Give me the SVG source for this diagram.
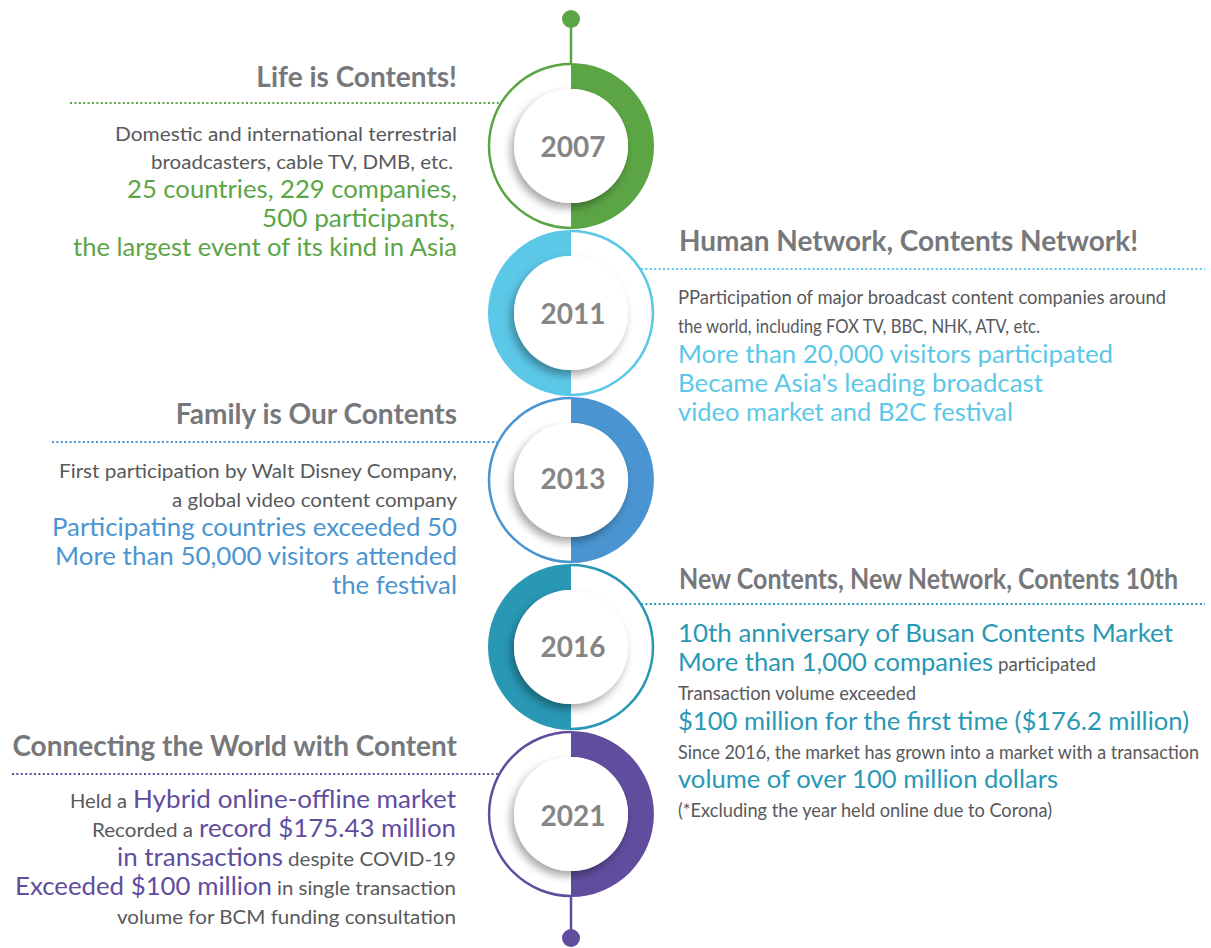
<svg xmlns="http://www.w3.org/2000/svg" width="1211" height="948" viewBox="0 0 1211 948">
<style>
text{font-family:Lato,"Liberation Sans",sans-serif}
.t{font-size:28px;font-weight:700;fill:#77787b}
.b{font-size:19.5px;fill:#58595b}
.c{font-size:25px}
.yr{font-size:28px;font-weight:700;fill:#858585;text-anchor:middle}
.e{text-anchor:end}
.dot{fill:none;stroke-width:2;stroke-dasharray:2 2.4}
.thin{fill:none;stroke-width:2.5}
.g{fill:#5ba545}.gs{stroke:#5ba545}
.lb{fill:#5bc8e8}.lbs{stroke:#5bc8e8}
.bl{fill:#4a95d1}.bls{stroke:#4a95d1}
.tl{fill:#2898b5}.tls{stroke:#2898b5}
.pu{fill:#604d9e}.pus{stroke:#604d9e}
</style>
<defs>
<filter id="sh" x="-30%" y="-30%" width="160%" height="160%">
<feDropShadow dx="-3" dy="5" stdDeviation="4" flood-color="#000" flood-opacity="0.35"/>
</filter>
</defs>
<g id="connectors">
<line x1="571" y1="19" x2="571" y2="63" class="gs" stroke-width="2.5"/>
<line x1="571" y1="897" x2="571" y2="938" class="pus" stroke-width="2.5"/>
<line x1="70" y1="103" x2="500" y2="103" class="dot gs"/>
<line x1="641" y1="269" x2="1205" y2="269" class="dot lbs"/>
<line x1="52" y1="442" x2="497" y2="442" class="dot bls"/>
<line x1="641" y1="604" x2="1205" y2="604" class="dot tls"/>
<line x1="12" y1="774" x2="498" y2="774" class="dot pus"/>
</g>
<g id="dot-top"><circle cx="571" cy="19" r="9" class="g"/></g>
<g id="dot-bottom"><circle cx="571" cy="938" r="9" class="pu"/></g>
<g id="node-2007">
<path d="M571 63 A83 83 0 0 1 571 229 L571 203 A57 57 0 0 0 571 89 Z" class="g"/>
<path d="M571 64 A82 82 0 0 0 571 228" class="thin gs"/>
<circle cx="571" cy="146" r="57" fill="#fff" filter="url(#sh)"/>
<text x="573" y="157" class="yr">2007</text>
</g>
<g id="node-2011">
<path d="M571 230 A83 83 0 0 0 571 396 L571 370 A57 57 0 0 1 571 256 Z" class="lb"/>
<path d="M571 231 A82 82 0 0 1 571 395" class="thin lbs"/>
<circle cx="571" cy="313" r="57" fill="#fff" filter="url(#sh)"/>
<text x="573" y="324" class="yr">2011</text>
</g>
<g id="node-2013">
<path d="M571 397 A83 83 0 0 1 571 563 L571 537 A57 57 0 0 0 571 423 Z" class="bl"/>
<path d="M571 398 A82 82 0 0 0 571 562" class="thin bls"/>
<circle cx="571" cy="480" r="57" fill="#fff" filter="url(#sh)"/>
<text x="573" y="489" class="yr">2013</text>
</g>
<g id="node-2016">
<path d="M571 564 A83 83 0 0 0 571 730 L571 704 A57 57 0 0 1 571 590 Z" class="tl"/>
<path d="M571 565 A82 82 0 0 1 571 729" class="thin tls"/>
<circle cx="571" cy="647" r="57" fill="#fff" filter="url(#sh)"/>
<text x="573" y="657" class="yr">2016</text>
</g>
<g id="node-2021">
<path d="M571 731 A83 83 0 0 1 571 897 L571 871 A57 57 0 0 0 571 757 Z" class="pu"/>
<path d="M571 732 A82 82 0 0 0 571 896" class="thin pus"/>
<circle cx="571" cy="814" r="57" fill="#fff" filter="url(#sh)"/>
<text x="573" y="826" class="yr">2021</text>
</g>
<g id="text-2007">
<text x="457" y="87" class="t e">Life is Contents!</text>
<text x="115" y="141" class="b" textLength="342" lengthAdjust="spacingAndGlyphs">Domestic and international terrestrial</text>
<text x="151" y="169" class="b" textLength="302" lengthAdjust="spacingAndGlyphs">broadcasters, cable TV, DMB, etc.</text>
<text x="127" y="198" class="c g" textLength="330" lengthAdjust="spacingAndGlyphs">25 countries, 229 companies,</text>
<text x="262" y="227" class="c g" textLength="193" lengthAdjust="spacingAndGlyphs">500 participants,</text>
<text x="73" y="256" class="c g" textLength="384" lengthAdjust="spacingAndGlyphs">the largest event of its kind in Asia</text>
</g>
<g id="text-2011">
<text x="679" y="251" class="t" textLength="459" lengthAdjust="spacingAndGlyphs">Human Network, Contents Network!</text>
<text x="678" y="304" class="b" textLength="488" lengthAdjust="spacingAndGlyphs">PParticipation of major broadcast content companies around</text>
<text x="678" y="333" class="b" textLength="362" lengthAdjust="spacingAndGlyphs">the world, including FOX TV, BBC, NHK, ATV, etc.</text>
<text x="678" y="363" class="c lb" textLength="435" lengthAdjust="spacingAndGlyphs">More than 20,000 visitors participated</text>
<text x="678" y="392" class="c lb" textLength="365" lengthAdjust="spacingAndGlyphs">Became Asia's leading broadcast</text>
<text x="678" y="421" class="c lb" textLength="335" lengthAdjust="spacingAndGlyphs">video market and B2C festival</text>
</g>
<g id="text-2013">
<text x="457" y="424" class="t e">Family is Our Contents</text>
<text x="59" y="478" class="b" textLength="398" lengthAdjust="spacingAndGlyphs">First participation by Walt Disney Company,</text>
<text x="172" y="507" class="b" textLength="285" lengthAdjust="spacingAndGlyphs">a global video content company</text>
<text x="52" y="536" class="c bl" textLength="405" lengthAdjust="spacingAndGlyphs">Participating countries exceeded 50</text>
<text x="55" y="565" class="c bl" textLength="402" lengthAdjust="spacingAndGlyphs">More than 50,000 visitors attended</text>
<text x="332" y="594" class="c bl" textLength="125" lengthAdjust="spacingAndGlyphs">the festival</text>
</g>
<g id="text-2016">
<text x="679" y="589" class="t" textLength="499" lengthAdjust="spacingAndGlyphs">New Contents, New Network, Contents 10th</text>
<text x="678" y="642" class="c tl" textLength="495" lengthAdjust="spacingAndGlyphs">10th anniversary of Busan Contents Market</text>
<text x="678" y="671" class="c tl" textLength="315" lengthAdjust="spacingAndGlyphs">More than 1,000 companies</text>
<text x="998" y="671" class="b" textLength="98" lengthAdjust="spacingAndGlyphs">participated</text>
<text x="678" y="700" class="b" textLength="238" lengthAdjust="spacingAndGlyphs">Transaction volume exceeded</text>
<text x="678" y="730" class="c tl" textLength="511" lengthAdjust="spacingAndGlyphs">$100 million for the first time ($176.2 million)</text>
<text x="678" y="759" class="b" textLength="521" lengthAdjust="spacingAndGlyphs">Since 2016, the market has grown into a market with a transaction</text>
<text x="678" y="788" class="c tl" textLength="380" lengthAdjust="spacingAndGlyphs">volume of over 100 million dollars</text>
<text x="678" y="817" class="b" textLength="374" lengthAdjust="spacingAndGlyphs">(*Excluding the year held online due to Corona)</text>
</g>
<g id="text-2021">
<text x="457" y="756" class="t e">Connecting the World with Content</text>
<text x="70" y="808" class="b" textLength="57" lengthAdjust="spacingAndGlyphs">Held a</text>
<text x="133" y="808" class="c pu" textLength="323" lengthAdjust="spacingAndGlyphs">Hybrid online-offline market</text>
<text x="92" y="837" class="b" textLength="101" lengthAdjust="spacingAndGlyphs">Recorded a</text>
<text x="199" y="837" class="c pu" textLength="257" lengthAdjust="spacingAndGlyphs">record $175.43 million</text>
<text x="117" y="866" class="c pu" textLength="166" lengthAdjust="spacingAndGlyphs">in transactions</text>
<text x="288" y="866" class="b" textLength="168" lengthAdjust="spacingAndGlyphs">despite COVID-19</text>
<text x="15" y="895" class="c pu" textLength="257" lengthAdjust="spacingAndGlyphs">Exceeded $100 million</text>
<text x="277" y="895" class="b" textLength="179" lengthAdjust="spacingAndGlyphs">in single transaction</text>
<text x="117" y="924" class="b" textLength="339" lengthAdjust="spacingAndGlyphs">volume for BCM funding consultation</text>
</g>
</svg>
